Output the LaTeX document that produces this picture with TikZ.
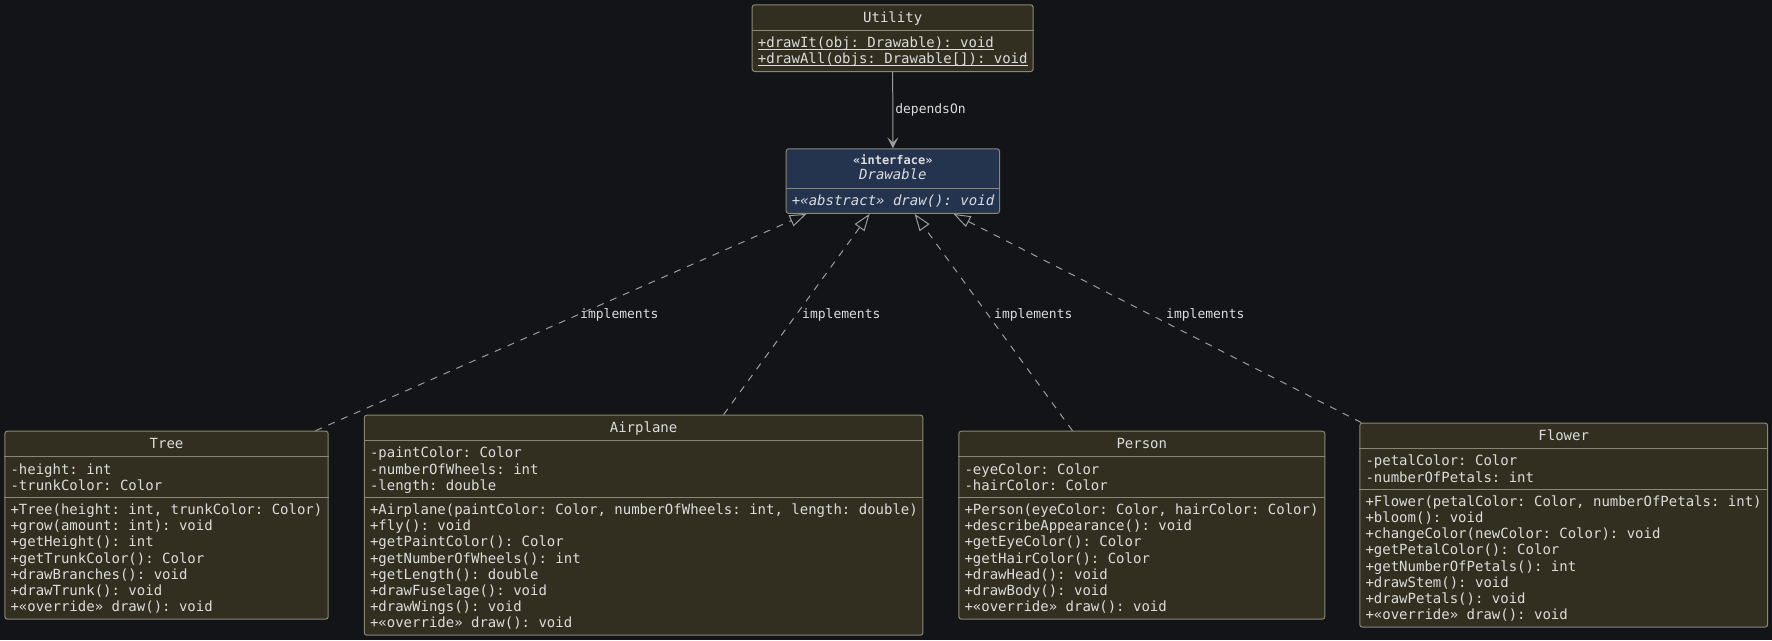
\documentclass[tikz,border=0pt]{standalone}
\usepackage{fontspec}
\setmonofont{DejaVu Sans Mono}
\usetikzlibrary{arrows.meta, positioning, calc}

\definecolor{bgcol}{HTML}{131417}
\definecolor{clsfill}{HTML}{332F20}
\definecolor{ifcfill}{HTML}{24344F}
\definecolor{edgecol}{HTML}{8A8775}
\definecolor{txtcol}{HTML}{DCDCDC}
\definecolor{linkcol}{HTML}{9C9C9C}

% underline for static members
\newcommand\ulmember[1]{\setbox0\hbox{#1}\rlap{\rule[-2.4pt]{\wd0}{1pt}}\box0}

\begin{document}
\begin{tikzpicture}[x=1pt, y=-1pt,
    box/.style={draw=edgecol, fill=clsfill, line width=1pt, rounded corners=2.5pt, anchor=north west, inner sep=0pt},
    ifcbox/.style={box, fill=ifcfill},
    ttl/.style={anchor=base, inner sep=0pt, text=txtcol, font=\ttfamily\fontsize{14}{16.1}\selectfont},
    mbr/.style={anchor=base west, inner sep=0pt, text=txtcol, font=\ttfamily\fontsize{14}{16.1}\selectfont},
    lbl/.style={anchor=west, inner sep=0pt, text=txtcol, font=\ttfamily\fontsize{13}{15}\selectfont},
    sep/.style={draw=edgecol, line width=1pt},
    impl/.style={draw=linkcol, line width=1pt, dash pattern=on 7pt off 7pt, -{Triangle[open, length=17pt, width=12pt]}},
    dep/.style={draw=linkcol, line width=1pt, -{Stealth[length=11pt, width=11pt, inset=5pt]}}]

    \fill[bgcol] (0,0) rectangle (1772,640);

    % Utility
    \node[box, minimum width=281pt, minimum height=66.7pt] (utility) at (751.7,4.3) {};
    \draw[sep] ($(utility.north west)+(0,26)$) -- ($(utility.north east)+(0,26)$);
    \node[ttl] (utility-t) at ($(utility.north)+(0,18)$) {Utility};
    \foreach \m [count=\i] in {{\ulmember{+drawIt(obj: Drawable): void}}, {\ulmember{+drawAll(objs: Drawable[]): void}}}
        \node[mbr] (utility-m\i) at ($(utility.north west)+(6,27.2+16.1*\i)$) {\m};

    % Drawable
    \node[ifcbox, minimum width=213.3pt, minimum height=64.6pt] (drawable) at (785.7,148.3) {};
    \draw[sep] ($(drawable.north west)+(0,40)$) -- ($(drawable.north east)+(0,40)$);
    \node[ttl, font=\ttfamily\bfseries\fontsize{12}{14}\selectfont] (drawable-s) at ($(drawable.north)+(0,16.3)$) {«interface»};
    \node[ttl, font=\ttfamily\itshape\fontsize{14}{16.1}\selectfont] (drawable-t) at ($(drawable.north)+(0,31.4)$) {Drawable};
    \node[mbr, font=\ttfamily\itshape\fontsize{14}{16.1}\selectfont] (drawable-m1) at ($(drawable.north west)+(6,57.3)$) {+«abstract» draw(): void};

    % Tree
    \node[box, minimum width=323.4pt, minimum height=187.9pt] (tree) at (4.3,430.7) {};
    \draw[sep] ($(tree.north west)+(0,26)$) -- ($(tree.north east)+(0,26)$);
    \draw[sep] ($(tree.north west)+(0,66.7)$) -- ($(tree.north east)+(0,66.7)$);
    \node[ttl] (tree-t) at ($(tree.north)+(0,18)$) {Tree};
    \foreach \m [count=\i] in {{-height: int}, {-trunkColor: Color}}
        \node[mbr] (tree-a\i) at ($(tree.north west)+(6,27.2+16.1*\i)$) {\m};
    \foreach \m [count=\i] in {{+Tree(height: int, trunkColor: Color)}, {+grow(amount: int): void}, {+getHeight(): int},
        {+getTrunkColor(): Color}, {+drawBranches(): void}, {+drawTrunk(): void}, {+«override» draw(): void}}
        \node[mbr] (tree-m\i) at ($(tree.north west)+(6,67.9+16.1*\i)$) {\m};

    % Airplane
    \node[box, minimum width=558.6pt, minimum height=220.1pt] (airplane) at (363.8,414.6) {};
    \draw[sep] ($(airplane.north west)+(0,26)$) -- ($(airplane.north east)+(0,26)$);
    \draw[sep] ($(airplane.north west)+(0,82.8)$) -- ($(airplane.north east)+(0,82.8)$);
    \node[ttl] (airplane-t) at ($(airplane.north)+(0,18)$) {Airplane};
    \foreach \m [count=\i] in {{-paintColor: Color}, {-numberOfWheels: int}, {-length: double}}
        \node[mbr] (airplane-a\i) at ($(airplane.north west)+(6,27.2+16.1*\i)$) {\m};
    \foreach \m [count=\i] in {{+Airplane(paintColor: Color, numberOfWheels: int, length: double)}, {+fly(): void},
        {+getPaintColor(): Color}, {+getNumberOfWheels(): int}, {+getLength(): double}, {+drawFuselage(): void},
        {+drawWings(): void}, {+«override» draw(): void}}
        \node[mbr] (airplane-m\i) at ($(airplane.north west)+(6,84+16.1*\i)$) {\m};

    % Person
    \node[box, minimum width=366pt, minimum height=187.9pt] (person) at (958.3,430.7) {};
    \draw[sep] ($(person.north west)+(0,26)$) -- ($(person.north east)+(0,26)$);
    \draw[sep] ($(person.north west)+(0,66.7)$) -- ($(person.north east)+(0,66.7)$);
    \node[ttl] (person-t) at ($(person.north)+(0,18)$) {Person};
    \foreach \m [count=\i] in {{-eyeColor: Color}, {-hairColor: Color}}
        \node[mbr] (person-a\i) at ($(person.north west)+(6,27.2+16.1*\i)$) {\m};
    \foreach \m [count=\i] in {{+Person(eyeColor: Color, hairColor: Color)}, {+describeAppearance(): void},
        {+getEyeColor(): Color}, {+getHairColor(): Color}, {+drawHead(): void}, {+drawBody(): void}, {+«override» draw(): void}}
        \node[mbr] (person-m\i) at ($(person.north west)+(6,67.9+16.1*\i)$) {\m};

    % Flower
    \node[box, minimum width=407.8pt, minimum height=204pt] (flower) at (1359.3,422.6) {};
    \draw[sep] ($(flower.north west)+(0,26)$) -- ($(flower.north east)+(0,26)$);
    \draw[sep] ($(flower.north west)+(0,66.7)$) -- ($(flower.north east)+(0,66.7)$);
    \node[ttl] (flower-t) at ($(flower.north)+(0,18)$) {Flower};
    \foreach \m [count=\i] in {{-petalColor: Color}, {-numberOfPetals: int}}
        \node[mbr] (flower-a\i) at ($(flower.north west)+(6,27.2+16.1*\i)$) {\m};
    \foreach \m [count=\i] in {{+Flower(petalColor: Color, numberOfPetals: int)}, {+bloom(): void},
        {+changeColor(newColor: Color): void}, {+getPetalColor(): Color}, {+getNumberOfPetals(): int},
        {+drawStem(): void}, {+drawPetals(): void}, {+«override» draw(): void}}
        \node[mbr] (flower-m\i) at ($(flower.north west)+(6,67.9+16.1*\i)$) {\m};

    % relations
    \draw[dep] (utility.south) -- node[lbl, xshift=2pt] (dep-l) {dependsOn} (drawable.north);
    \draw[impl] ([xshift=149pt]tree.north) -- ([xshift=-86.3pt]drawable.south);
    \draw[impl] ([xshift=80pt]airplane.north) -- ([xshift=-23.3pt]drawable.south);
    \draw[impl] ([xshift=-69.3pt]person.north) -- ([xshift=21.7pt]drawable.south);
    \draw[impl] ([xshift=2pt]flower.north west) -- ([xshift=60.7pt]drawable.south);
    \node[lbl] (impl-tree) at (580,315) {implements};
    \node[lbl] (impl-airplane) at (802,315) {implements};
    \node[lbl] (impl-person) at (994,315) {implements};
    \node[lbl] (impl-flower) at (1166,315) {implements};
\end{tikzpicture}
\end{document}
